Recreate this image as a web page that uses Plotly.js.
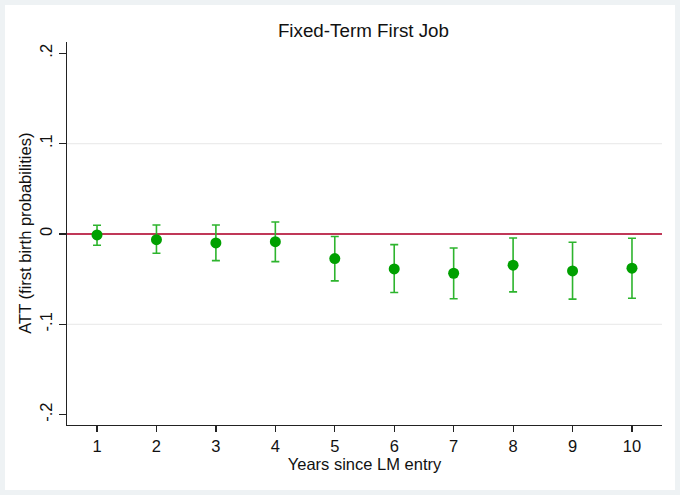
<!DOCTYPE html>
<html>
<head>
<meta charset="utf-8">
<script src="https://cdn.plot.ly/plotly-3.0.1.min.js"></script>
<style>
html,body{margin:0;padding:0;background:#eef2f4;}
#chart{position:absolute;left:5px;top:5px;width:670px;height:485px;background:#fff;}
</style>
</head>
<body>
<div id="chart"></div>
<script>
var years = [1,2,3,4,5,6,7,8,9,10];
var att = [-0.0011,-0.0063,-0.0100,-0.0085,-0.0273,-0.0387,-0.0435,-0.0346,-0.0409,-0.0379];
var ciUpper = [0.0096,0.0099,0.0099,0.0133,-0.0029,-0.0118,-0.0155,-0.0044,-0.0092,-0.0048];
var ciLower = [-0.0125,-0.0214,-0.0295,-0.0306,-0.0519,-0.0648,-0.0718,-0.0641,-0.0722,-0.0711];
var yTickVals = [-0.2,-0.1,0,0.1,0.2];
var yTickText = ['-.2','-.1','0','.1','.2'];

var errPlus = att.map(function(v,i){return ciUpper[i]-v;});
var errMinus = att.map(function(v,i){return v-ciLower[i];});

var trace = {
  x: years, y: att, type:'scatter', mode:'markers',
  marker:{color:'#00a000', size:11},
  error_y:{type:'data', symmetric:false, array:errPlus, arrayminus:errMinus,
           color:'#2db42d', thickness:1.6, width:4},
  hoverinfo:'x+y', showlegend:false
};

var layout = {
  width:670, height:485,
  margin:{l:62, r:13, t:37, b:65},
  paper_bgcolor:'#ffffff', plot_bgcolor:'#ffffff',
  font:{family:'Liberation Sans, Arial, sans-serif', color:'#111', size:16.5},
  title:{text:'Fixed-Term First Job', x:0.535, xanchor:'center', y:0.948, yanchor:'middle',
         font:{size:18.8, color:'#111'}},
  xaxis:{range:[0.495,10.505], tickvals:years, ticktext:years.map(String),
         showgrid:false, zeroline:false, showline:true, linecolor:'#222', linewidth:1.2,
         ticks:'outside', ticklen:6, tickcolor:'#222', tickwidth:1.2,
         tickfont:{size:16.5, color:'#111'},
         title:{text:'Years since LM entry', font:{size:16.5, color:'#111'}, standoff:0}},
  yaxis:{range:[-0.2115,0.2125], tickvals:yTickVals, ticktext:yTickText, tickangle:-90,
         showgrid:false, zeroline:false, showline:true, linecolor:'#222', linewidth:1.2,
         ticks:'outside', ticklen:7, tickcolor:'#222', tickwidth:1.2,
         tickfont:{size:16.5, color:'#111'}},
  annotations:[
    {text:'ATT (first birth probabilities)', xref:'paper', yref:'paper', x:-0.072, y:0.5,
     xanchor:'center', yanchor:'middle', textangle:-90, showarrow:false,
     font:{size:16.5, color:'#111'}}
  ],
  shapes:[
    {type:'line', xref:'paper', yref:'y', x0:0, x1:1, y0:0.1, y1:0.1, layer:'below',
     line:{color:'#ececec', width:1.2}},
    {type:'line', xref:'paper', yref:'y', x0:0, x1:1, y0:-0.1, y1:-0.1, layer:'below',
     line:{color:'#ececec', width:1.2}},
    {type:'line', xref:'paper', yref:'y', x0:0, x1:1, y0:0, y1:0, layer:'below',
     line:{color:'#c03858', width:2}}
  ]
};

Plotly.newPlot('chart', [trace], layout, {displayModeBar:false, staticPlot:true});
</script>
</body>
</html>
